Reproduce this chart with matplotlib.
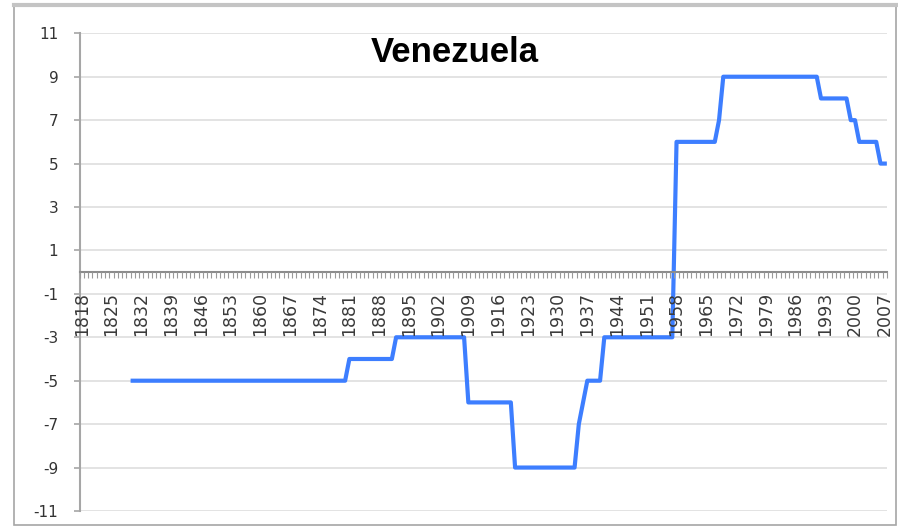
import numpy as np
import matplotlib
matplotlib.use('Agg')
import matplotlib.pyplot as plt
from matplotlib.patches import Rectangle
from matplotlib.lines import Line2D

plt.rcParams['axes.unicode_minus'] = False

nan = np.nan

# Years on the category axis
years = list(range(1818, 2008))

# Polity score per year
polity = [
    nan, nan,                                        # 1818-1819
    nan, nan, nan, nan, nan, nan, nan, nan, nan, nan,  # 1820s
    -5, -5, -5, -5, -5, -5, -5, -5, -5, -5,          # 1830s
    -5, -5, -5, -5, -5, -5, -5, -5, -5, -5,          # 1840s
    -5, -5, -5, -5, -5, -5, -5, -5, -5, -5,          # 1850s
    -5, -5, -5, -5, -5, -5, -5, -5, -5, -5,          # 1860s
    -5, -5, -5, -5, -5, -5, -5, -5, -5, -5,          # 1870s
    -5, -4, -4, -4, -4, -4, -4, -4, -4, -4,          # 1880s
    -4, -4, -3, -3, -3, -3, -3, -3, -3, -3,          # 1890s
    -3, -3, -3, -3, -3, -3, -3, -3, -3, -6,          # 1900s
    -6, -6, -6, -6, -6, -6, -6, -6, -6, -6,          # 1910s
    -9, -9, -9, -9, -9, -9, -9, -9, -9, -9,          # 1920s
    -9, -9, -9, -9, -9, -7, -6, -5, -5, -5,          # 1930s
    -5, -3, -3, -3, -3, -3, -3, -3, -3, -3,          # 1940s
    -3, -3, -3, -3, -3, -3, -3, -3, 6, 6,            # 1950s
    6, 6, 6, 6, 6, 6, 6, 6, 7, 9,                    # 1960s
    9, 9, 9, 9, 9, 9, 9, 9, 9, 9,                    # 1970s
    9, 9, 9, 9, 9, 9, 9, 9, 9, 9,                    # 1980s
    9, 9, 8, 8, 8, 8, 8, 8, 8, 7,                    # 1990s
    7, 6, 6, 6, 6, 6, 5, 5,                          # 2000-2007
]

label_step = 7
yticks = list(range(-11, 12, 2))

fig = plt.figure(figsize=(8.98, 5.27), dpi=100)
ax = fig.add_axes([0.0886, 0.0304, 0.8990, 0.9064])

x = np.arange(len(years))
ax.set_xlim(-0.5, len(years) - 0.5)
ax.set_ylim(-11, 11)

# horizontal gridlines under the line
for v in yticks:
    ax.axhline(v, color='#e0e0e0', lw=1.3, zorder=0)

ax.plot(x, polity, color='#3d7eff', lw=3, zorder=2)

ax.set_axisbelow(False)
for s in ['top', 'right']:
    ax.spines[s].set_visible(False)
ax.spines['left'].set_color('#a6a6a6')
ax.spines['left'].set_linewidth(1.5)
ax.spines['bottom'].set_position(('data', 0))
ax.spines['bottom'].set_color('#8c8c8c')
ax.spines['bottom'].set_linewidth(1.5)

# x axis: labels every 7 years, a tick at every category boundary
ax.set_xticks(x[::label_step])
ax.set_xticklabels([str(y) for y in years[::label_step]], rotation=90,
                   va='top', ha='center')
ax.set_xticks(np.arange(-0.5, len(years), 1), minor=True)
ax.tick_params(axis='x', which='major', length=0, pad=14.4,
               labelsize=12.5, labelcolor='#3a3a3a')
ax.tick_params(axis='x', which='minor', length=4.3, width=0.8,
               color='#9a9a9a', direction='out')

ax.set_yticks(yticks)
ax.tick_params(axis='y', length=4.3, width=1.2, color='#a6a6a6',
               labelsize=11, labelcolor='#333333', pad=11)

fig.text(455 / 898, 1 - 52 / 527, 'Venezuela', ha='center', va='center',
         fontsize=25, fontweight='bold', family='Liberation Sans')

# outer chart frame
fig.add_artist(Rectangle((14 / 898, 1 - 525 / 527), (896 - 14) / 898,
                         (525 - 5) / 527, transform=fig.transFigure,
                         fill=False, ec='#a6a6a6', lw=1.2))
fig.add_artist(Line2D([14 / 898, 896 / 898], [1 - 5 / 527, 1 - 5 / 527],
                      transform=fig.transFigure, color='#c4c4c4', lw=3))

fig.savefig('out.png', dpi=100)
